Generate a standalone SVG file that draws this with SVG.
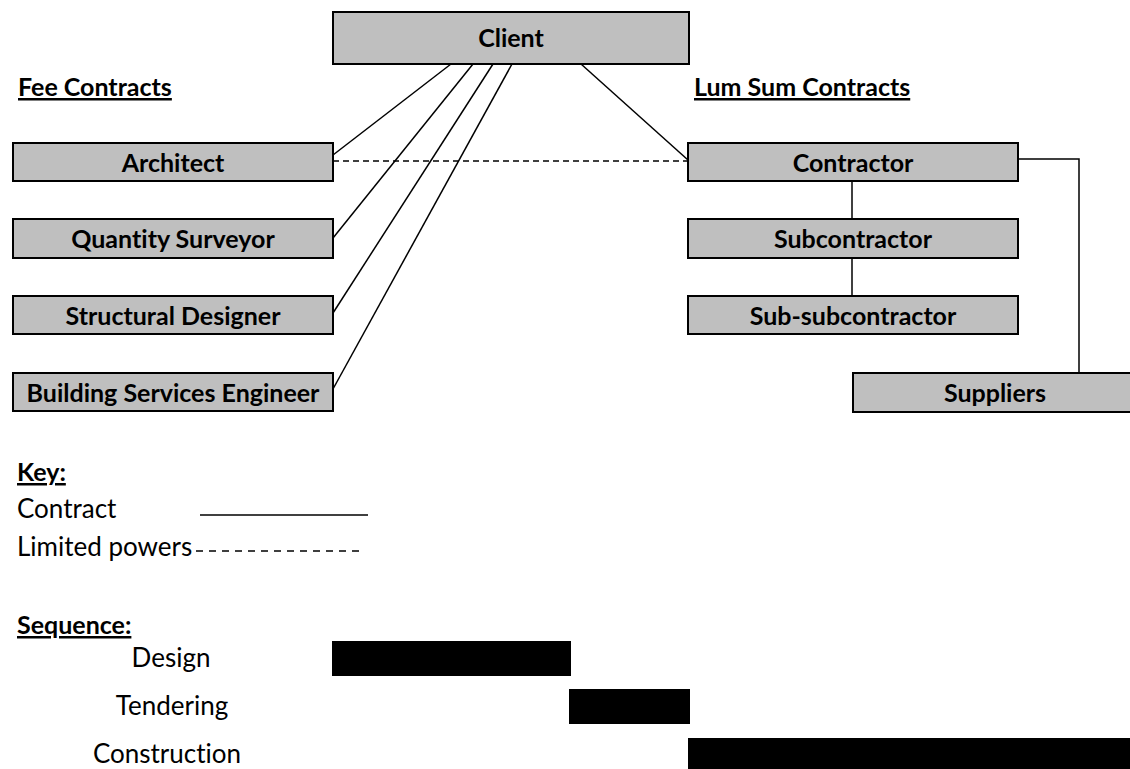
<svg xmlns="http://www.w3.org/2000/svg" width="1130" height="769" viewBox="0 0 1130 769">
<style>
text{font-variant-ligatures:none;font-feature-settings:"liga" 0,"clig" 0}
.box{fill:#bfbfbf;stroke:#000;stroke-width:2}
.lbl{font-family:Lato,"Liberation Sans",sans-serif;font-weight:bold;font-size:25px;fill:#000;text-anchor:middle}
.hd{font-family:Lato,"Liberation Sans",sans-serif;font-weight:bold;font-size:25px;fill:#000;text-decoration:underline}
.txt{font-family:Lato,"Liberation Sans",sans-serif;font-size:26px;fill:#000}
.ctr{text-anchor:middle}
.ln{stroke:#000;stroke-width:1.5;fill:none}
.dash{stroke:#000;stroke-width:1.5;stroke-dasharray:6 4;fill:none}
.bar{fill:#000}
</style>
<rect width="1130" height="769" fill="#fff"/>
<g id="connectors">
<line class="ln" x1="451" y1="64" x2="333" y2="155"/>
<line class="ln" x1="473" y1="64" x2="333" y2="238"/>
<line class="ln" x1="493" y1="64" x2="333" y2="313"/>
<line class="ln" x1="512" y1="64" x2="333" y2="389"/>
<line class="ln" x1="581" y1="64" x2="688" y2="160"/>
<line class="dash" x1="333" y1="161" x2="688" y2="161"/>
<line class="ln" x1="852" y1="181" x2="852" y2="219"/>
<line class="ln" x1="852" y1="258" x2="852" y2="296"/>
<polyline class="ln" points="1018,159 1079,159 1079,373" stroke="#222"/>
</g>
<g id="client"><rect class="box" x="333" y="12" width="356" height="52"/><text class="lbl" x="511" y="47">Client</text></g>
<g id="architect"><rect class="box" x="13" y="143" width="320" height="38"/><text class="lbl" x="173" y="172">Architect</text></g>
<g id="quantity-surveyor"><rect class="box" x="13" y="219" width="320" height="39"/><text class="lbl" x="173" y="248">Quantity Surveyor</text></g>
<g id="structural-designer"><rect class="box" x="13" y="296" width="320" height="38"/><text class="lbl" x="173" y="325">Structural Designer</text></g>
<g id="building-services-engineer"><rect class="box" x="13" y="373" width="320" height="38"/><text class="lbl" x="173" y="402">Building Services Engineer</text></g>
<g id="contractor"><rect class="box" x="688" y="143" width="330" height="38"/><text class="lbl" x="853" y="172">Contractor</text></g>
<g id="subcontractor"><rect class="box" x="688" y="219" width="330" height="39"/><text class="lbl" x="853" y="248">Subcontractor</text></g>
<g id="sub-subcontractor"><rect class="box" x="688" y="296" width="330" height="38"/><text class="lbl" x="853" y="325">Sub-subcontractor</text></g>
<g id="suppliers"><rect class="box" x="853" y="373" width="290" height="39"/><text class="lbl" x="995" y="402">Suppliers</text></g>
<g id="headings">
<text class="hd" x="18" y="96">Fee Contracts</text>
<text class="hd" x="694" y="96">Lum Sum Contracts</text>
</g>
<g id="key">
<text class="hd" x="17" y="481">Key:</text>
<text class="txt" x="17" y="518">Contract</text>
<line class="ln" x1="200" y1="515" x2="368" y2="515"/>
<text class="txt" x="17" y="556">Limited powers</text>
<line x1="196" y1="551" x2="362" y2="551" stroke="#000" stroke-width="1.5" stroke-dasharray="7 6"/>
</g>
<g id="sequence">
<text class="hd" x="17" y="634">Sequence:</text>
<text class="txt ctr" x="171" y="667">Design</text>
<text class="txt ctr" x="172" y="715">Tendering</text>
<text class="txt ctr" x="167" y="763">Construction</text>
<rect class="bar" x="332" y="641" width="239" height="35"/>
<rect class="bar" x="569" y="689" width="121" height="35"/>
<rect class="bar" x="688" y="738" width="450" height="31"/>
</g>
</svg>
